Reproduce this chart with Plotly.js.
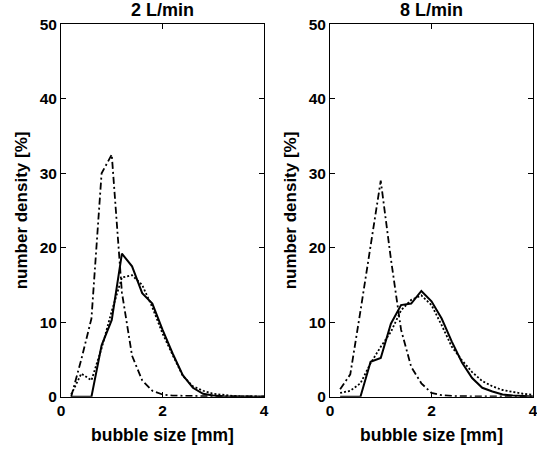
<!DOCTYPE html>
<html>
<head>
<meta charset="utf-8">
<script src="https://cdn.plot.ly/plotly-3.0.1.min.js"></script>
<style>html,body{margin:0;padding:0;background:#fff}#chart{width:537px;height:450px}</style>
</head>
<body>
<div id="chart"></div>
<script>
const bubbleSize = [0.2,0.4,0.6,0.8,1.0,1.2,1.4,1.6,1.8,2.0,2.2,2.4,2.6,2.8,3.0,3.2,3.4,3.6,3.8,4.0];

const left_solid   = [0,0,0,6.9,10.3,19.2,17.5,13.9,12.5,9.0,5.8,2.9,1.2,0.4,0.15,0.05,0.02,0,0,0];
const left_dotted  = [0.3,3.1,2.2,6.5,11.5,16,16.3,15,12,8.5,5.6,2.8,1.4,0.8,0.4,0.2,0.1,0.05,0.03,0.02];
const left_dashdot = [0,5,10.5,30,32.5,14,5.5,2.2,0.8,0.3,0.15,0.1,0.05,0.05,0.05,0.05,0.05,0.05,0.05,0.05];

const right_solid   = [0,0,0,4.7,5.2,9.8,12.3,12.5,14.2,12.8,10.5,7.4,4.6,2.5,1.2,0.7,0.3,0.15,0.05,0.02];
const right_dotted  = [0.5,0.8,1.8,4.5,6.7,8.7,11.6,13.0,13.6,12.3,9.6,6.7,4.9,3.3,2.1,1.4,0.9,0.6,0.4,0.25];
const right_dashdot = [1.0,3.0,11.5,20.5,29,18.5,9,4,1.8,0.5,0.2,0.1,0.05,0.05,0.05,0.05,0.05,0.05,0.05,0.05];

const panelTitles = ['2 L/min','8 L/min'];
const xTicks = [0,2,4];
const yTicks = [0,10,20,30,40,50];
const xLabel = 'bubble size [mm]';
const yLabel = 'number density [%]';

const FONT = 'Liberation Sans, Arial, sans-serif';
const DASHDOT = '7px,3px,2px,3px';
const DOT = '2px,2px';

function tr(y, xa, ya, dash){
  return {x: bubbleSize, y: y, xaxis: xa, yaxis: ya, mode:'lines', type:'scatter',
    line:{color:'#000', width: dash==='solid'?2:1.8, dash: dash}, showlegend:false, hoverinfo:'skip'};
}

const data = [
  tr(left_solid,'x','y','solid'),
  tr(left_dotted,'x','y',DOT),
  tr(left_dashdot,'x','y',DASHDOT),
  tr(right_solid,'x2','y2','solid'),
  tr(right_dotted,'x2','y2',DOT),
  tr(right_dashdot,'x2','y2',DASHDOT)
];

const tickFont = {family: FONT, size: 15.5, color:'#000'};
function xax(dom){
  return {domain: dom, range:[0,4], tickvals: xTicks, ticktext: xTicks.map(v=>'<b>'+v+'</b>'),
    ticks:'inside', ticklen:5, tickwidth:1, tickcolor:'#000', showline:true, linecolor:'#000', linewidth:1,
    mirror:'ticks', showgrid:false, zeroline:false, tickfont: tickFont, ticklabeloverflow:'allow',
    title:{text:'<b>'+xLabel+'</b>', font:{family:FONT,size:17.5,color:'#000'}, standoff: 10}};
}
function yax(anchor){
  return {domain:[0.1184,0.9462], range:[0,50], anchor: anchor, tickvals: yTicks, ticktext: yTicks.map(v=>'<b>'+v+'</b>'),
    ticks:'inside', ticklen:5, tickwidth:1, tickcolor:'#000', showline:true, linecolor:'#000', linewidth:1,
    mirror:'ticks', showgrid:false, zeroline:false, tickfont: tickFont, ticklabeloverflow:'allow',
    title:{text:'<b>'+yLabel+'</b>', font:{family:FONT,size:17,color:'#000'}, standoff: 7}};
}

const layout = {
  width:537, height:450,
  margin:{l:0,r:0,t:0,b:0},
  paper_bgcolor:'#fff', plot_bgcolor:'#fff',
  xaxis: Object.assign(xax([0.1136,0.4916]), {anchor:'y'}),
  yaxis: yax('x'),
  xaxis2: Object.assign(xax([0.6145,0.9926]), {anchor:'y2'}),
  yaxis2: yax('x2'),
  annotations: [
    {text:'<b>'+panelTitles[0]+'</b>', xref:'paper', yref:'paper', x:(0.1136+0.4916)/2, y:0.9462, yshift:2,
     xanchor:'center', yanchor:'bottom', showarrow:false, font:{family:FONT,size:18,color:'#000'}},
    {text:'<b>'+panelTitles[1]+'</b>', xref:'paper', yref:'paper', x:(0.6145+0.9926)/2, y:0.9462, yshift:2,
     xanchor:'center', yanchor:'bottom', showarrow:false, font:{family:FONT,size:18,color:'#000'}}
  ]
};

Plotly.newPlot('chart', data, layout, {displayModeBar:false, staticPlot:true});
</script>
</body>
</html>
